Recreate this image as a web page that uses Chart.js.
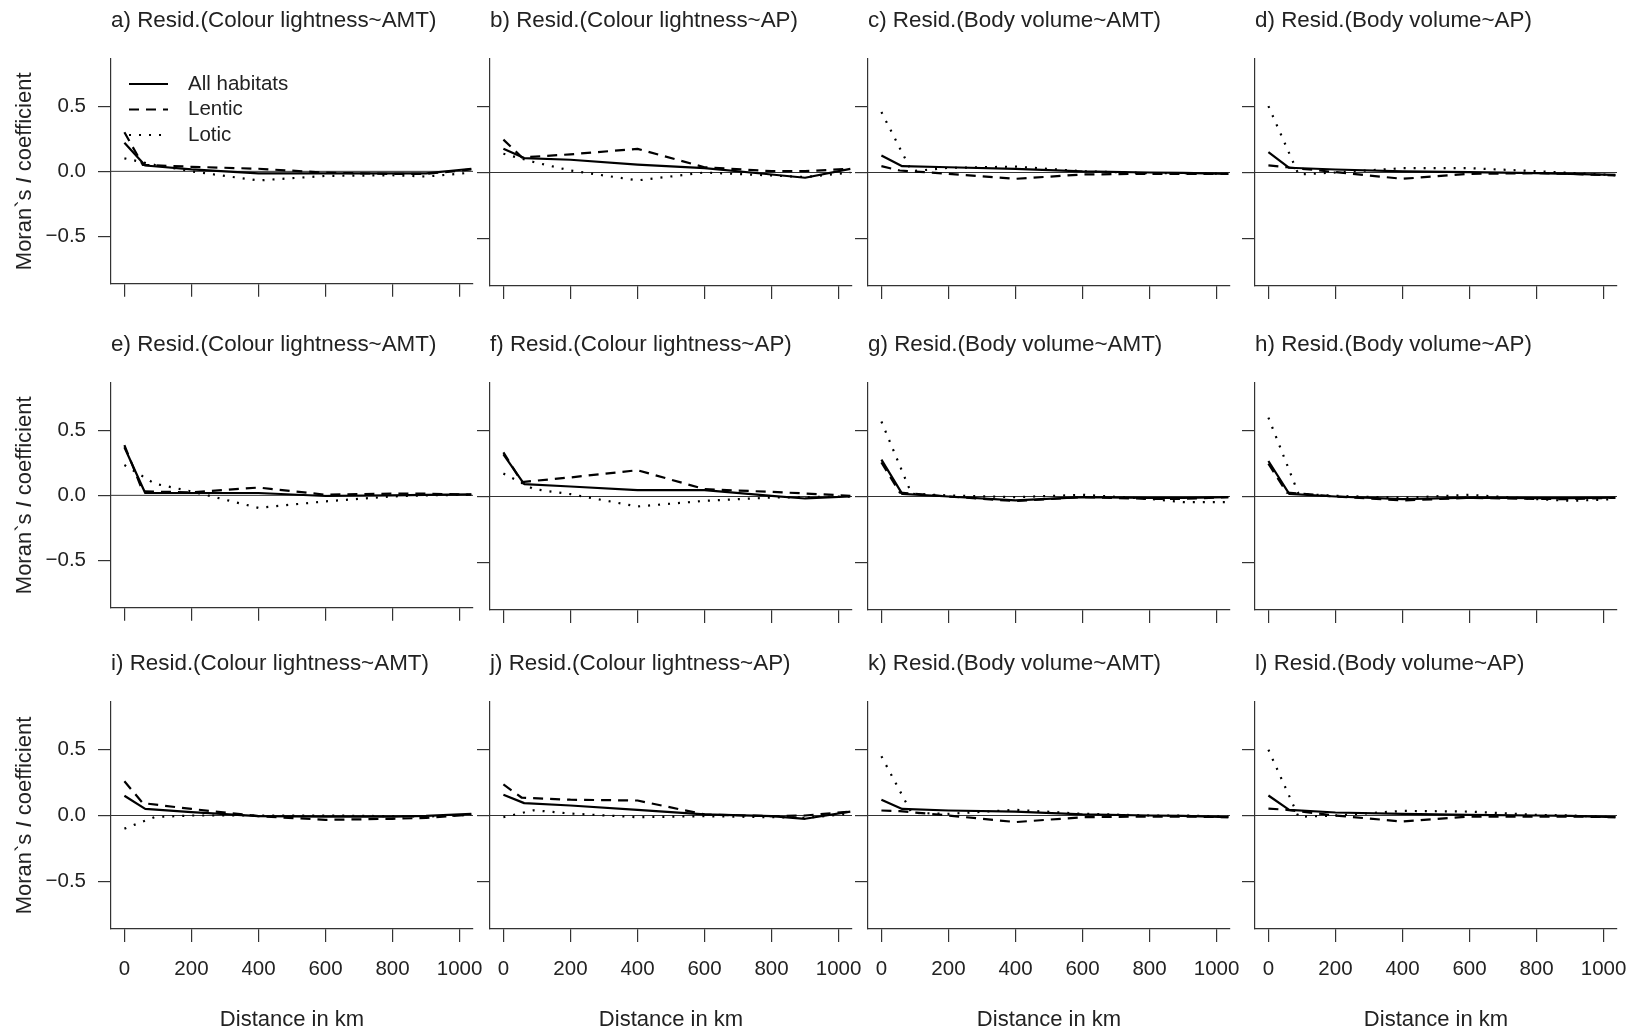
<!DOCTYPE html>
<html>
<head>
<meta charset="utf-8">
<title>Moran's I correlograms</title>
<script src="https://cdn.jsdelivr.net/npm/chart.js@4/dist/chart.umd.min.js"></script>
<style>
  html, body { margin: 0; padding: 0; background: #fff; }
  body { width: 1635px; height: 1031px; position: relative; overflow: hidden; }
  canvas { position: absolute; }
</style>
</head>
<body>
<script>
// correlogram panels, row by row
const panelTitles = [
  'a) Resid.(Colour lightness~AMT)', 'b) Resid.(Colour lightness~AP)',
  'c) Resid.(Body volume~AMT)', 'd) Resid.(Body volume~AP)',
  'e) Resid.(Colour lightness~AMT)', 'f) Resid.(Colour lightness~AP)',
  'g) Resid.(Body volume~AMT)', 'h) Resid.(Body volume~AP)',
  'i) Resid.(Colour lightness~AMT)', 'j) Resid.(Colour lightness~AP)',
  'k) Resid.(Body volume~AMT)', 'l) Resid.(Body volume~AP)'
];

const seriesNames = ['All habitats', 'Lentic', 'Lotic'];

// distance classes (km)
const distAll    = [0, 62, 200, 400, 600, 800, 900, 1035];
const distLentic = [0, 55, 200, 400, 600, 800, 900, 1035];
const distLotic  = [0, 90, 200, 400, 600, 800, 900, 1035];

// Moran's I per panel
const allHabitats = [
  [0.22, 0.045, 0.015, -0.015, -0.015, -0.015, -0.015, 0.02],
  [0.18, 0.11, 0.097, 0.06, 0.033, -0.015, -0.04, 0.028],
  [0.13, 0.048, 0.04, 0.028, 0.008, 0.0, -0.003, -0.01],
  [0.155, 0.036, 0.023, 0.008, 0.003, -0.005, -0.01, -0.018],
  [0.37, 0.018, 0.018, 0.018, -0.005, 0.0, 0.003, 0.008],
  [0.32, 0.094, 0.076, 0.048, 0.048, 0.005, -0.015, 0.0],
  [0.28, 0.02, 0.0, -0.03, -0.005, -0.01, -0.01, -0.005],
  [0.27, 0.02, 0.0, -0.02, -0.008, -0.013, -0.013, -0.008],
  [0.15, 0.05, 0.025, -0.005, -0.008, -0.008, -0.003, 0.013],
  [0.157, 0.094, 0.076, 0.043, 0.008, -0.005, -0.025, 0.03],
  [0.12, 0.05, 0.038, 0.03, 0.008, 0.0, -0.003, -0.013],
  [0.152, 0.043, 0.023, 0.013, 0.005, 0.0, -0.003, -0.013]
];
const lentic = [
  [0.30, 0.05, 0.035, 0.02, -0.01, -0.02, -0.02, 0.015],
  [0.25, 0.115, 0.138, 0.18, 0.04, 0.01, 0.01, 0.028],
  [0.048, 0.015, -0.01, -0.048, -0.015, -0.01, -0.01, -0.01],
  [0.054, 0.04, 0.003, -0.048, -0.01, -0.005, -0.01, -0.023],
  [0.386, 0.03, 0.023, 0.06, 0.005, 0.013, 0.013, 0.005],
  [0.335, 0.11, 0.145, 0.20, 0.056, 0.035, 0.023, 0.005],
  [0.26, 0.03, 0.0, -0.035, -0.005, -0.018, -0.018, -0.005],
  [0.25, 0.03, 0.0, -0.03, -0.01, -0.018, -0.02, -0.01],
  [0.26, 0.094, 0.05, -0.005, -0.033, -0.025, -0.018, 0.008],
  [0.236, 0.135, 0.12, 0.114, 0.008, -0.005, 0.0, 0.03],
  [0.038, 0.033, 0.0, -0.05, -0.013, -0.008, -0.008, -0.013],
  [0.053, 0.043, 0.0, -0.046, -0.008, -0.008, -0.008, -0.013]
];
const lotic = [
  [0.10, 0.05, 0.0, -0.07, -0.035, -0.03, -0.04, -0.01],
  [0.143, 0.08, 0.015, -0.06, 0.0, -0.023, -0.035, 0.0],
  [0.46, 0.01, 0.035, 0.045, 0.01, -0.005, -0.005, -0.01],
  [0.505, -0.015, 0.0, 0.033, 0.033, 0.01, -0.003, -0.02],
  [0.233, 0.09, 0.03, -0.096, -0.046, -0.008, 0.0, 0.005],
  [0.175, 0.056, 0.018, -0.076, -0.033, -0.008, -0.005, 0.0],
  [0.57, 0.02, 0.008, -0.005, 0.013, -0.018, -0.043, -0.043],
  [0.60, 0.02, 0.005, -0.01, 0.013, -0.02, -0.033, -0.02],
  [-0.10, -0.012, 0.0, 0.0, 0.0, -0.005, -0.008, 0.005],
  [-0.013, 0.04, 0.015, -0.013, -0.005, -0.013, -0.018, 0.013],
  [0.45, 0.02, 0.013, 0.043, 0.013, 0.0, 0.0, -0.008],
  [0.50, -0.01, 0.0, 0.035, 0.03, 0.005, 0.0, -0.013]
];

const xTicks = [0, 200, 400, 600, 800, 1000];
const yTicks = [-0.5, 0, 0.5];

// page layout
const colLeft = [111, 490, 868, 1255];
const rowTop = [59, 383, 702];
const plotW = 362, plotH = 227, axisW = 111, headH = 59, rightPad = 30;
const FONT = '"Liberation Sans", Arial, Helvetica, sans-serif';
const INK = '#222';

Chart.defaults.font.family = FONT;
Chart.defaults.color = INK;

const lineStyles = [
  { borderDash: [], borderWidth: 2.2 },
  { borderDash: [10, 7], borderWidth: 2.2 },
  { borderDash: [2, 8], borderWidth: 2.2 }
];

// zero line, panel title, y title and legend
const panelDecor = {
  id: 'panelDecor',
  beforeDatasetsDraw(chart) {
    const { ctx, chartArea: a, scales: { y } } = chart;
    const y0 = y.getPixelForValue(0);
    ctx.save();
    ctx.strokeStyle = '#333';
    ctx.lineWidth = 1;
    ctx.beginPath();
    ctx.moveTo(a.left, y0);
    ctx.lineTo(a.right, y0);
    ctx.stroke();
    ctx.restore();
  },
  afterDraw(chart, args, opts) {
    const { ctx, chartArea: a } = chart;
    ctx.save();
    ctx.fillStyle = INK;
    ctx.textBaseline = 'middle';
    ctx.textAlign = 'left';
    ctx.font = '22.4px ' + FONT;
    ctx.fillText(opts.title, a.left, a.top - 38);

    if (opts.yTitle) {
      const parts = [['Moran`s ', 'normal'], ['I', 'italic'], [' coefficient', 'normal']];
      let total = 0;
      parts.forEach(p => { ctx.font = p[1] + ' 22px ' + FONT; total += ctx.measureText(p[0]).width; });
      ctx.translate(25, (a.top + a.bottom) / 2);
      ctx.rotate(-Math.PI / 2);
      let x = -total / 2;
      parts.forEach(p => {
        ctx.font = p[1] + ' 22px ' + FONT;
        ctx.fillText(p[0], x, 0);
        x += ctx.measureText(p[0]).width;
      });
      ctx.setTransform(1, 0, 0, 1, 0, 0);
    }

    if (opts.legend) {
      seriesNames.forEach((name, i) => {
        const ly = a.top + 25 + i * 25.5;
        ctx.strokeStyle = '#000';
        ctx.lineWidth = lineStyles[i].borderWidth;
        ctx.setLineDash(lineStyles[i].borderDash);
        ctx.beginPath();
        ctx.moveTo(a.left + 18, ly);
        ctx.lineTo(a.left + 57, ly);
        ctx.stroke();
        ctx.setLineDash([]);
        ctx.font = '20.5px ' + FONT;
        ctx.fillText(name, a.left + 77, ly);
      });
    }
    ctx.restore();
  }
};

function fmtY(v) {
  if (v === 0) return '0.0';
  return (v < 0 ? '\u2212' : '') + Math.abs(v).toFixed(1);
}

panelTitles.forEach((title, p) => {
  const r = Math.floor(p / 4), c = p % 4;
  const lastRow = r === 2;
  const bottomH = lastRow ? 102 : 22;
  const w = axisW + plotW + rightPad;
  const h = headH + plotH + bottomH;

  const cv = document.createElement('canvas');
  cv.width = w;
  cv.height = h;
  cv.style.width = w + 'px';
  cv.style.height = h + 'px';
  cv.style.left = (colLeft[c] - axisW) + 'px';
  cv.style.top = (rowTop[r] - headH) + 'px';
  document.body.appendChild(cv);

  const series = [
    distAll.map((x, i) => ({ x, y: allHabitats[p][i] })),
    distLentic.map((x, i) => ({ x, y: lentic[p][i] })),
    distLotic.map((x, i) => ({ x, y: lotic[p][i] }))
  ];

  new Chart(cv, {
    type: 'line',
    data: {
      datasets: series.map((d, i) => ({
        label: seriesNames[i],
        data: d,
        borderColor: '#000',
        borderWidth: lineStyles[i].borderWidth,
        borderDash: lineStyles[i].borderDash,
        borderJoinStyle: 'round',
        pointRadius: 0,
        tension: 0,
        fill: false
      }))
    },
    options: {
      responsive: false,
      animation: false,
      events: [],
      layout: { padding: { top: headH, right: rightPad, left: 0, bottom: 0 } },
      plugins: {
        legend: { display: false },
        tooltip: { enabled: false },
        panelDecor: { title, yTitle: c === 0, legend: p === 0 }
      },
      scales: {
        x: {
          type: 'linear',
          min: -40,
          max: 1040,
          afterBuildTicks: s => { s.ticks = xTicks.map(v => ({ value: v })); },
          afterFit: s => { s.height = bottomH; },
          border: { display: true, color: '#333', width: 1.2 },
          grid: { drawOnChartArea: false, drawTicks: true, tickLength: 13, color: '#333', lineWidth: 1.2 },
          ticks: { display: lastRow, font: { size: 20.5 }, color: INK, padding: 15, maxRotation: 0, autoSkip: false, callback: v => String(v) },
          title: { display: lastRow, text: 'Distance in km', font: { size: 22, lineHeight: 1 }, color: INK, padding: { top: 0, bottom: 0 } }
        },
        y: {
          type: 'linear',
          min: -0.863,
          max: 0.863,
          afterBuildTicks: s => { s.ticks = yTicks.map(v => ({ value: v })); },
          afterFit: s => { s.width = axisW; },
          border: { display: true, color: '#333', width: 1.2 },
          grid: { drawOnChartArea: false, drawTicks: true, tickLength: 13, color: '#333', lineWidth: 1.2 },
          ticks: { display: c === 0, font: { size: 20.5 }, color: INK, padding: 12, callback: fmtY }
        }
      }
    },
    plugins: [panelDecor]
  });
});
</script>
</body>
</html>
